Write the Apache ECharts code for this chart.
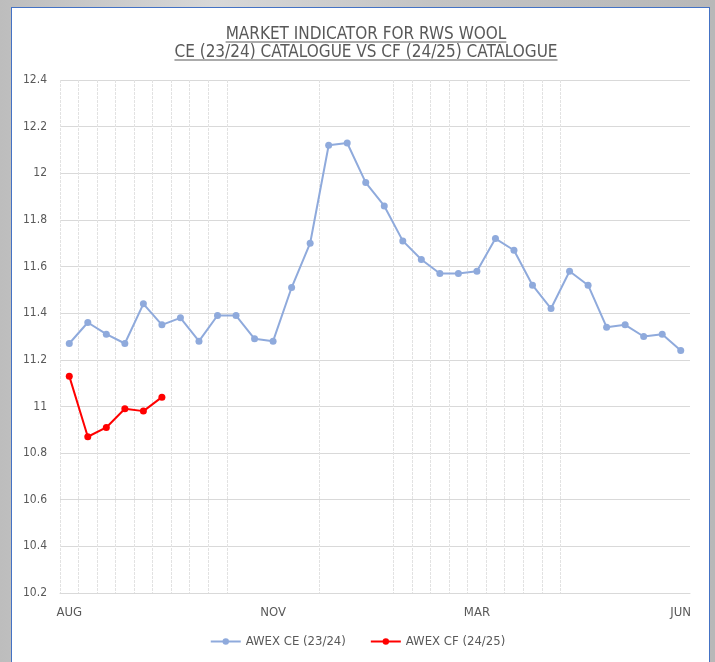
<!DOCTYPE html>
<html>
<head>
<meta charset="utf-8">
<script src="https://cdn.jsdelivr.net/npm/echarts@6/dist/echarts.min.js"></script>
<style>
  html, body { margin: 0; padding: 0; width: 715px; height: 662px; overflow: hidden;
    background: linear-gradient(90deg, #bdbdbd 0%, #d8d8d8 30%, #c4c4c4 60%, #b8b8b8 100%); }
  #box { position: absolute; left: 11px; top: 7px; width: 699px; height: 700px;
    background: #ffffff; border: 1.5px solid #4472c4; box-sizing: border-box; }
  #chart { position: absolute; left: 0; top: 0; width: 715px; height: 662px; }
</style>
</head>
<body>
<div id="box"></div>
<div id="chart"></div>
<script>
// ---- data ----
const categories = ['AUG','','','','','','','','','','',
                    'NOV','','','','','','','','','','',
                    'MAR','','','','','','','','','','','JUN'];
const awexCE = [11.27, 11.36, 11.31, 11.27, 11.44, 11.35, 11.38, 11.28, 11.39, 11.39, 11.29,
                11.28, 11.51, 11.70, 12.12, 12.13, 11.96, 11.86, 11.71, 11.63, 11.57, 11.57,
                11.58, 11.72, 11.67, 11.52, 11.42, 11.58, 11.52, 11.34, 11.35, 11.30, 11.31, 11.24];
const awexCF = [11.13, 10.87, 10.91, 10.99, 10.98, 11.04];
const gridBoundaries = [0, 1, 2, 3, 4, 5, 6, 7, 8, 9, 14, 18, 19, 20, 21, 22, 23, 24, 25, 26, 27];
const titleLines = ['MARKET INDICATOR FOR RWS WOOL', 'CE (23/24) CATALOGUE VS CF (24/25) CATALOGUE'];
const seriesNames = ['AWEX CE (23/24)', 'AWEX CF (24/25)'];

const FONT = '"Liberation Sans Narrow", "DejaVu Sans Condensed", "Liberation Sans", sans-serif';
const TITLE_SIZE = 17;
const GRAY = '#595959';

// measure title widths (for centring and underline)
const cv = document.createElement('canvas').getContext('2d');
cv.font = TITLE_SIZE + 'px ' + FONT;
const titleCX = 366;
const titleTop = [26, 44];
const underlineY = [42, 60];
const titleWidths = titleLines.map(t => cv.measureText(t).width);

const titles = titleLines.map((t, i) => ({
  text: t,
  left: titleCX - titleWidths[i] / 2,
  top: titleTop[i],
  padding: 0,
  textStyle: { fontFamily: FONT, fontSize: TITLE_SIZE, fontWeight: 'normal', color: GRAY, lineHeight: 18 }
}));
const underlines = titleLines.map((t, i) => ({
  type: 'line',
  shape: { x1: titleCX - titleWidths[i] / 2, y1: underlineY[i], x2: titleCX + titleWidths[i] / 2, y2: underlineY[i] },
  style: { stroke: GRAY, lineWidth: 1 },
  silent: true
}));

const chart = echarts.init(document.getElementById('chart'));
chart.setOption({
  backgroundColor: 'transparent',
  animation: false,
  title: titles,
  graphic: underlines,
  grid: { left: 60, right: 25, top: 80, bottom: 69, containLabel: false },
  legend: {
    bottom: 9,
    left: 'center',
    itemWidth: 30,
    itemHeight: 8,
    itemGap: 24,
    textStyle: { fontFamily: FONT, fontSize: 13, color: GRAY },
    data: seriesNames
  },
  xAxis: {
    type: 'category',
    data: categories,
    boundaryGap: true,
    axisLine: { show: true, lineStyle: { color: '#d9d9d9', width: 1 } },
    axisTick: { show: false },
    axisLabel: { interval: 0, color: GRAY, fontFamily: FONT, fontSize: 13, margin: 13 },
    splitLine: {
      show: true,
      showMinLine: true,
      showMaxLine: false,
      interval: (idx) => gridBoundaries.indexOf(idx) >= 0,
      lineStyle: { color: '#e2e2e2', width: 1, type: [3, 1] }
    }
  },
  yAxis: {
    type: 'value',
    min: 10.2,
    max: 12.4,
    interval: 0.2,
    axisLine: { show: false },
    axisTick: { show: false },
    axisLabel: { color: GRAY, fontFamily: FONT, fontSize: 12, margin: 13 },
    splitLine: { show: true, lineStyle: { color: '#d9d9d9', width: 1 } }
  },
  series: [
    {
      name: seriesNames[0],
      type: 'line',
      data: awexCE,
      symbol: 'circle',
      symbolSize: 7,
      itemStyle: { color: '#8faadc' },
      lineStyle: { color: '#8faadc', width: 2 }
    },
    {
      name: seriesNames[1],
      type: 'line',
      data: awexCF,
      symbol: 'circle',
      symbolSize: 7,
      itemStyle: { color: '#ff0000' },
      lineStyle: { color: '#ff0000', width: 2 }
    }
  ]
});
</script>
</body>
</html>
